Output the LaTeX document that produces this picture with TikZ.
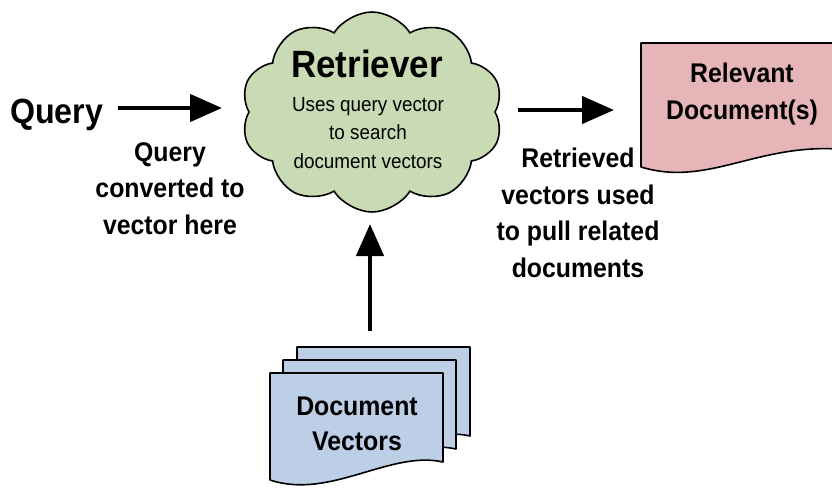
\documentclass[tikz,border=0pt]{standalone}
\usepackage{fontspec}
\setmainfont{Liberation Sans}[FakeStretch=0.92]
\usetikzlibrary{shapes.symbols,arrows.meta}
\definecolor{cloudgreen}{HTML}{C9DBB4}
\definecolor{docpink}{HTML}{E6B5B7}
\definecolor{docblue}{HTML}{BDCFE7}
\tikzset{
  flow/.style={line width=4.5pt,-{Triangle[length=32pt,width=27pt]}},
  sheet/.style={draw=black,line width=1.6pt,line join=round},
  biglabel/.style={font=\bfseries\fontsize{35}{38}\selectfont,inner sep=0pt},
  caption/.style={font=\bfseries\fontsize{27}{36.5}\selectfont,align=center,inner sep=0pt},
  cloudtext/.style={font=\fontsize{20.5}{28.5}\selectfont,align=center,inner sep=0pt},
}
\begin{document}
\begin{tikzpicture}[x=1pt,y=-1pt]
  \useasboundingbox[fill=white] (0,0) rectangle (832,490);

  % input query
  \node[biglabel,anchor=base west] (query) at (10,123) {Query};

  % retriever cloud
  \node[cloud,cloud puffs=10,cloud puff arc=115,draw=black,line width=1.6pt,
        fill=cloudgreen,minimum width=262pt,minimum height=200pt,aspect=1.3]
        (retriever) at (372,112) {};
  \node[font=\bfseries\fontsize{38}{40}\selectfont,inner sep=0pt,anchor=base]
        (rtitle) at (367,77) {Retriever};
  \node[cloudtext,anchor=north] (rdesc) at (368,97)
        {Uses query vector\\to search\\document vectors};

  % relevant documents (page runs off the right edge)
  \path[sheet,fill=docpink] (641,43) -- (850,43) -- (850,150)
        .. controls (760,140) and (710,188) .. (641,167) -- cycle;
  \node[caption,font=\bfseries\fontsize{27}{37}\selectfont,anchor=north]
        (relevant) at (742,63) {Relevant\\Document(s)};

  % stack of document vector pages
  \foreach \dx/\dy in {27/-26,13/-13,0/0}{
    \path[sheet,fill=docblue,shift={(\dx,\dy)}] (270,373) -- (443,373) -- (443,462)
          .. controls (390,450) and (330,500) .. (270,480) -- cycle;
  }
  \node[caption,font=\bfseries\fontsize{27}{35}\selectfont,anchor=north]
        (docvec) at (357,397) {Document\\Vectors};

  % connectors
  \coordinate (qa) at (118,108);
  \coordinate (qb) at (222,108);
  \draw[flow] (qa) -- (qb);
  \coordinate (ra) at (518,110);
  \coordinate (rb) at (614,110);
  \draw[flow] (ra) -- (rb);
  \coordinate (va) at (370,331);
  \coordinate (vb) at (370,224);
  \draw[flow] (va) -- (vb);

  % captions
  \node[caption,anchor=north] (qcap) at (170,142)
        {Query\\converted to\\vector here};
  \node[caption,anchor=north] (rcap) at (578,148)
        {Retrieved\\vectors used\\to pull related\\documents};
\end{tikzpicture}
\end{document}
